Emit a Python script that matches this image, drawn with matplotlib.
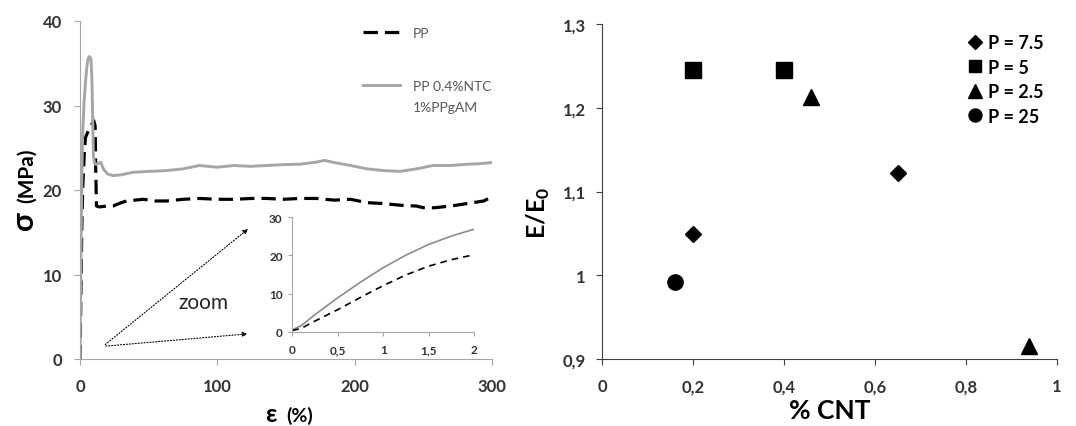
import matplotlib.pyplot as plt

plt.rcParams['font.family'] = ['Lato', 'Open Sans', 'DejaVu Sans']
plt.rcParams['mathtext.fontset'] = 'custom'
plt.rcParams['mathtext.rm'] = 'Lato:bold'
plt.rcParams['mathtext.bf'] = 'Lato:bold'

# courbes de traction (deformation en %, contrainte en MPa)
strain_pp = [0, 0.5, 1, 1.5, 2, 3, 4, 6, 8, 10, 11, 11.5, 12, 14, 20, 24, 30, 34, 40, 46,
             55, 63, 75, 87, 100, 112, 125, 136, 148, 160, 172, 185, 197, 209, 221, 233,
             245, 250, 258, 270, 282, 294, 300]
stress_pp = [0, 5.8, 12.1, 17.2, 20.2, 24.0, 26.2, 27.0, 27.6, 28.2, 27.6, 22.0, 18.1, 18.0,
             18.1, 18.1, 18.5, 18.7, 18.8, 18.9, 18.7, 18.7, 18.9, 19.0, 18.9, 18.9, 19.0,
             19.0, 18.9, 19.0, 19.0, 18.8, 18.9, 18.5, 18.4, 18.2, 18.1, 17.9, 17.9, 18.1,
             18.4, 18.7, 19.2]

strain_ntc = [0, 0.5, 1, 1.5, 2, 3, 4, 5, 6, 7, 8, 8.7, 9.3, 9.8, 10.5, 12, 14, 15, 17, 20,
              24, 30, 39, 50, 63, 75, 87, 100, 112, 124, 136, 148, 160, 172, 178, 185, 197,
              209, 221, 233, 245, 257, 270, 282, 290, 300]
stress_ntc = [0, 8.9, 16.8, 22.9, 26.9, 30.5, 32.8, 34.6, 35.6, 35.8, 35.5, 33.0, 28.0, 24.0,
              23.2, 23.0, 23.2, 23.3, 22.5, 21.9, 21.7, 21.8, 22.1, 22.2, 22.3, 22.5, 22.9,
              22.7, 22.9, 22.8, 22.9, 23.0, 23.05, 23.3, 23.5, 23.25, 22.9, 22.5, 22.3, 22.2,
              22.5, 22.9, 22.9, 23.05, 23.1, 23.25]

# zoom sur les 2 premiers %
zoom_strain = [0, 0.1, 0.25, 0.5, 0.75, 1.0, 1.25, 1.5, 1.75, 2.0]
zoom_pp = [0.3, 0.9, 2.8, 5.8, 9.0, 12.1, 14.9, 17.2, 18.9, 20.2]
zoom_ntc = [0.5, 1.6, 4.5, 8.9, 13.0, 16.8, 20.1, 22.9, 25.1, 26.9]

# module relatif en fonction du taux de NTC
cnt_p75 = [0.2, 0.65]
mod_p75 = [1.049, 1.122]
cnt_p5 = [0.2, 0.4]
mod_p5 = [1.245, 1.245]
cnt_p25 = [0.46, 0.94]
mod_p25 = [1.213, 0.916]
cnt_p250 = [0.16]
mod_p250 = [0.992]

W, H = 1076, 427
fig = plt.figure(figsize=(W / 100, H / 100), dpi=100)

ax1 = fig.add_axes([80 / W, 67 / H, 412 / W, 338 / H])
ax_in = fig.add_axes([292.3 / W, 94.3 / H, 182 / W, 114.4 / H])
ax2 = fig.add_axes([602.3 / W, 67 / H, 454.4 / W, 335 / H])

comma = lambda v: f'{v:g}'.replace('.', ',')
grey = '#a6a6a6'
txt = '#333333'


def bold_ticks(ax, xt, yt, size):
    ax.set_xticks(xt, [comma(v) for v in xt], fontweight='bold', fontsize=size, color=txt)
    ax.set_yticks(yt, [comma(v) for v in yt], fontweight='bold', fontsize=size, color=txt)


# --- graphe contrainte / deformation ---
l_pp, = ax1.plot(strain_pp, stress_pp, color='black', lw=2.3, dashes=(4.5, 2.2))
l_ntc, = ax1.plot(strain_ntc, stress_ntc, color=grey, lw=2.1)
ax1.set_xlim(0, 300)
ax1.set_ylim(0, 40)
bold_ticks(ax1, [0, 100, 200, 300], [0, 10, 20, 30, 40], 12)
for s in ['top', 'right']:
    ax1.spines[s].set_visible(False)
for s in ['left', 'bottom']:
    ax1.spines[s].set_color(grey)
ax1.tick_params(axis='both', colors=grey, length=4, labelcolor=txt)
ax1.tick_params(axis='y', pad=9)
ax1.tick_params(axis='x', pad=10)

ax1.legend([l_pp, l_ntc], ['PP', 'PP 0.4%NTC'], loc='upper left',
           bbox_to_anchor=(0.687, 0.983), frameon=False, prop={'size': 10},
           handlelength=2.66, handletextpad=0.93, labelspacing=2.95,
           borderpad=0, borderaxespad=0, labelcolor='#595959')
ax1.text(0.808, 0.746, '1%PPgAM', transform=ax1.transAxes, fontsize=10,
         color='#595959', ha='left', va='center')

# fleches "zoom"
ax1.annotate('', xy=(124, 15.6), xytext=(16.8, 1.5),
             arrowprops=dict(arrowstyle='-|>', ls=':', lw=0.8, color='black', mutation_scale=7))
ax1.annotate('', xy=(124, 3.0), xytext=(16.8, 1.5),
             arrowprops=dict(arrowstyle='-|>', ls=':', lw=0.8, color='black', mutation_scale=7))
ax1.text(90, 6.7, 'zoom', fontsize=15, ha='center', va='center', color='#262626')

# labels avec lettres grecques plus grandes
fig.text(33 / W, (H - 230) / H, 'σ', fontsize=22, fontweight='bold', rotation=90,
         rotation_mode='anchor', ha='left', va='baseline')
fig.text(33 / W, (H - 203) / H, '(MPa)', fontsize=15, fontweight='bold', rotation=90,
         rotation_mode='anchor', ha='left', va='baseline')
fig.text(265 / W, 4.7 / H, 'ε', fontsize=18, fontweight='bold', ha='left', va='baseline')
fig.text(286 / W, 4.7 / H, '(%)', fontsize=14, fontweight='bold', ha='left', va='baseline')

# --- encart ---
ax_in.plot(zoom_strain, zoom_ntc, color='#8c8c8c', lw=1.2)
ax_in.plot(zoom_strain, zoom_pp, color='black', lw=1.2, dashes=(4, 3))
ax_in.set_xlim(0, 2)
ax_in.set_ylim(0, 30)
bold_ticks(ax_in, [0, 0.5, 1, 1.5, 2], [0, 10, 20, 30], 8.5)
ax_in.patch.set_alpha(0)
for s in ['top', 'right']:
    ax_in.spines[s].set_visible(False)
for s in ['left', 'bottom']:
    ax_in.spines[s].set_color(grey)
ax_in.tick_params(axis='both', colors=grey, length=3, labelcolor=txt)
ax_in.tick_params(axis='x', pad=6)
ax_in.tick_params(axis='y', pad=4)

# --- module relatif ---
ax2.plot(cnt_p75, mod_p75, ls='none', marker='D', ms=8, color='black', label='P = 7.5')
ax2.plot(cnt_p5, mod_p5, ls='none', marker='s', ms=11, color='black', label='P = 5')
ax2.plot(cnt_p25, mod_p25, ls='none', marker='^', ms=12, color='black', label='P = 2.5')
ax2.plot(cnt_p250, mod_p250, ls='none', marker='o', ms=11, color='black', label='P = 25')
ax2.set_xlim(0, 1)
ax2.set_ylim(0.9, 1.3)
bold_ticks(ax2, [0, 0.2, 0.4, 0.6, 0.8, 1], [0.9, 1.0, 1.1, 1.2, 1.3], 12)
for s in ['top', 'right']:
    ax2.spines[s].set_visible(False)
for s in ['left', 'bottom']:
    ax2.spines[s].set_color('#404040')
ax2.tick_params(axis='both', colors='#404040', length=4, labelcolor=txt)
ax2.tick_params(axis='y', pad=8)
ax2.tick_params(axis='x', pad=10)

ax2.set_xlabel('% CNT', fontsize=19, fontweight='bold')
ax2.xaxis.set_label_coords(0.5, -0.115)
ax2.set_ylabel('E/E$_0$', fontsize=18, fontweight='bold')
ax2.yaxis.set_label_coords(-0.11, 0.44)

ax2.legend(loc='upper left', bbox_to_anchor=(0.802, 0.97), frameon=False,
           prop={'size': 13, 'weight': 'bold'}, markerscale=0.85, handlelength=0.9,
           handletextpad=0.3, labelspacing=0.42, borderpad=0, borderaxespad=0)

fig.savefig('out.png', dpi=100)
